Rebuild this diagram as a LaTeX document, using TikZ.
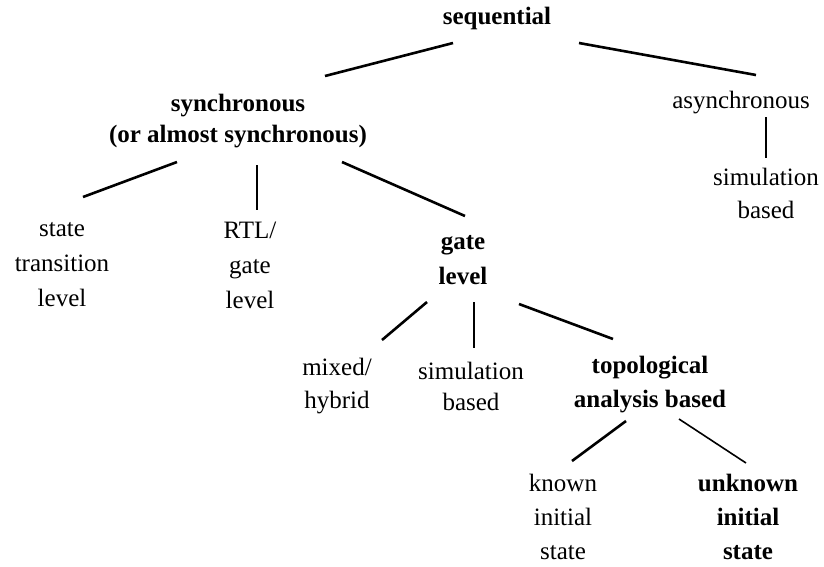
\documentclass[tikz,border=0pt]{standalone}
\usepackage{fontspec}
\setmainfont{Liberation Serif}
\begin{document}
\begin{tikzpicture}[x=1pt,y=-1pt,
  lbl/.style={inner sep=0pt, align=center, font=\fontsize{25}{#1}\selectfont},
  lbl/.default=33,
  blbl/.style={inner sep=0pt, align=center, font=\fontsize{25}{#1}\selectfont\bfseries},
  blbl/.default=33,
  conn/.style={line width=2.6pt},
  thinconn/.style={line width=1.6pt}]
\useasboundingbox (0,0) rectangle (824,566);
\node[blbl] (seq) at (497,18) {sequential};
\node[blbl=31] (sync) at (238,121) {synchronous\\(or almost synchronous)};
\node[lbl] (async) at (741,103) {asynchronous};
\node[lbl] (asim) at (766,193) {simulation\\based};
\node[lbl=35] (stl) at (62,265) {state\\transition\\level};
\node[lbl=35] (rtl) at (250,265) {RTL/\\gate\\level};
\node[blbl=35] (gate) at (463,260) {gate\\level};
\node[lbl] (mixed) at (337,386) {mixed/\\hybrid};
\node[lbl=31] (gsim) at (471,386) {simulation\\based};
\node[blbl=34] (topo) at (650,385) {topological\\analysis based};
\node[lbl=34] (known) at (563,517) {known\\initial\\state};
\node[blbl=34] (unknown) at (748,517) {unknown\\initial\\state};
\draw[conn] ([shift={(-44,25)}]seq.center) -- ([shift={(87,-45)}]sync.center);
\draw[conn] ([shift={(82,25)}]seq.center) -- ([shift={(15,-28)}]async.center);
\draw[conn] ([shift={(25,14)}]async.center) -- ([shift={(0,-35)}]asim.center);
\draw[conn] ([shift={(-61,41)}]sync.center) -- ([shift={(21,-68)}]stl.center);
\draw[conn] ([shift={(19,44)}]sync.center) -- ([shift={(7,-55)}]rtl.center);
\draw[conn] ([shift={(104,41)}]sync.center) -- ([shift={(2,-44)}]gate.center);
\draw[conn] ([shift={(-36,42)}]gate.center) -- ([shift={(45,-46)}]mixed.center);
\draw[conn] ([shift={(11,42)}]gate.center) -- ([shift={(3,-38)}]gsim.center);
\draw[conn] ([shift={(56,44)}]gate.center) -- ([shift={(-37,-46)}]topo.center);
\draw[conn] ([shift={(-24,36)}]topo.center) -- ([shift={(9,-56)}]known.center);
\draw[thinconn] ([shift={(29,34)}]topo.center) -- ([shift={(-2,-54)}]unknown.center);
\end{tikzpicture}
\end{document}
